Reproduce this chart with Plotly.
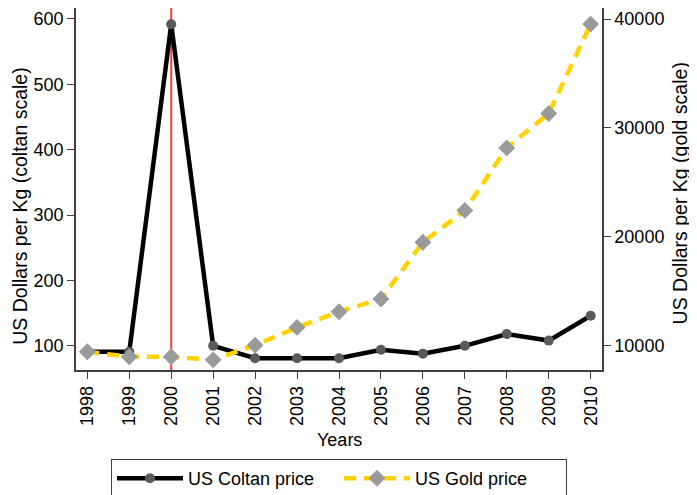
import plotly.graph_objects as go

years = [1998, 1999, 2000, 2001, 2002, 2003, 2004, 2005, 2006, 2007, 2008, 2009, 2010]
coltan_price = [91, 91, 592, 100, 81, 81, 81, 94, 88, 100, 118, 108, 146]
gold_price = [9450, 8990, 8990, 8710, 10060, 11690, 13130, 14300, 19510, 22430, 28170, 31330, 39530]
event_year = 2000
left_ticks = [100, 200, 300, 400, 500, 600]
right_ticks = [10000, 20000, 30000, 40000]

FONT = "Liberation Sans, Arial, sans-serif"
AX = "#404040"

fig = go.Figure()
fig.add_trace(go.Scatter(
    x=years, y=coltan_price, name="US Coltan price", mode="lines+markers",
    line=dict(color="black", width=4.5),
    marker=dict(symbol="circle", size=10, color="#5a5a5a"),
    yaxis="y"))
fig.add_trace(go.Scatter(
    x=years, y=gold_price, name="US Gold price", mode="lines+markers",
    line=dict(color="#FFD200", width=4.5, dash="12px,8px"),
    marker=dict(symbol="diamond", size=13, color="#9a9a9a"),
    yaxis="y2"))

fig.add_shape(type="line", xref="x", yref="paper", x0=event_year, x1=event_year,
              y0=0, y1=1, line=dict(color="#FF3B3B", width=2), layer="below")

fig.update_layout(
    width=689, height=487,
    margin=dict(l=68, r=95, t=0, b=125, autoexpand=False),
    paper_bgcolor="white", plot_bgcolor="white",
    font=dict(family=FONT, size=18, color="black"),
    showlegend=True,
    legend=dict(orientation="h", xref="container", yref="container",
                x=0.4804, xanchor="center", y=0.0739, yanchor="top",
                bordercolor=AX, borderwidth=1, font=dict(size=18),
                itemwidth=66, entrywidth=146),
    xaxis=dict(range=[1997.73, 2010.27], tickvals=years, ticktext=[str(y) for y in years],
               tickangle=-90, ticks="outside", ticklen=7, tickcolor=AX,
               showline=True, linecolor=AX, linewidth=1.5, mirror=True,
               showgrid=False, zeroline=False, automargin=False),
    yaxis=dict(range=[63, 616.8], tickvals=left_ticks, ticks="outside", ticklen=7,
               tickcolor=AX, showline=True, linecolor=AX, linewidth=1.5,
               showgrid=False, zeroline=False, automargin=False),
    yaxis2=dict(range=[7780, 41010], tickvals=right_ticks, tickformat="d",
                overlaying="y", side="right",
                anchor="x", ticks="outside", ticklen=7, tickcolor=AX,
                showline=True, linecolor=AX, linewidth=1.5,
                showgrid=False, zeroline=False, automargin=False),
    annotations=[
        dict(text="Years", xref="paper", yref="paper", x=0.5, y=-0.193,
             xanchor="center", yanchor="middle", showarrow=False, font=dict(size=18)),
        dict(text="US Dollars per Kg (coltan scale)", xref="paper", yref="paper",
             x=-0.107, y=0.453, xanchor="center", yanchor="middle", textangle=-90,
             showarrow=False, font=dict(size=19.5)),
        dict(text="US Dollars per Kg (gold scale)", xref="paper", yref="paper",
             x=1.150, y=0.4876, xanchor="center", yanchor="middle", textangle=-90,
             showarrow=False, font=dict(size=19.5)),
    ],
)

fig.write_html("out.html")
